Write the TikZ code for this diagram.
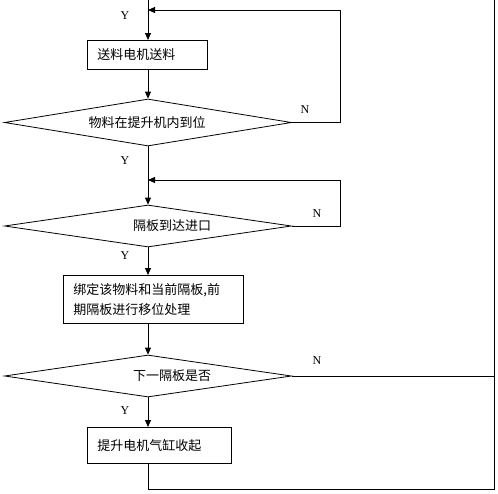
\documentclass[tikz,border=0pt]{standalone}
\usepackage{fontspec}
\setmainfont{Liberation Serif}
\newfontfamily\cjk{Noto Sans CJK SC}
\usetikzlibrary{arrows.meta,shapes.geometric,positioning}

\begin{document}
\begin{tikzpicture}[x=1pt,y=-1pt,>={Triangle[length=7pt,width=6pt]},line width=0.8pt,
    procbox/.style={draw,rectangle,anchor=north west,inner xsep=10pt,inner ysep=0pt,
                    align=left,font=\cjk\fontsize{13}{20}\selectfont},
    decide/.style={draw,diamond,inner sep=0pt,minimum width=287pt},
    dtext/.style={font=\cjk\fontsize{13}{16}\selectfont,inner sep=0pt},
    yn/.style={font=\fontsize{12}{14}\selectfont,inner sep=0pt}]
  \useasboundingbox (0,0) rectangle (498,493);
  % process boxes
  \node[procbox,text width=100pt,minimum height=29pt] (feed) at (87,40) {送料电机送料};
  \node[procbox,text width=160pt,minimum height=48pt] (bind) at (63,275)
     {绑定该物料和当前隔板,前\\期隔板进行移位处理};
  \node[procbox,text width=124pt,minimum height=36pt] (lift) at (87,427) {提升电机气缸收起};
  % decisions
  \node[decide,minimum height=47pt] (inpos) at (148,122.5) {};
  \node[dtext] (inpostxt) at ([xshift=-1pt]inpos) {物料在提升机内到位};
  \node[decide,minimum height=42pt] (arrive) at (148,226) {};
  \node[dtext] (arrivetxt) at ([xshift=24pt]arrive) {隔板到达进口};
  \node[decide,minimum height=42pt] (next) at (148,376) {};
  \node[dtext] (nexttxt) at ([xshift=24pt]next) {下一隔板是否};
  % free ends
  \coordinate (top) at (148,0);
  \coordinate (loopa) at (340,10);
  \coordinate (loopb) at (340,180);
  \coordinate (back) at (494,489);
  % flow
  \draw[->] (top) -- (top |- feed.north);
  \draw[->] (top |- feed.south) -- (inpos.north);
  \draw[->] (inpos.south) -- (arrive.north);
  \draw[->] (arrive.south) -- (arrive.south |- bind.north);
  \draw[->] (arrive.south |- bind.south) -- (next.north);
  \draw[->] (next.south) -- (next.south |- lift.north);
  % loops
  \draw[->] (inpos.east) -| (loopa) -- (top |- loopa);
  \draw[->] (arrive.east) -| (loopb) -- (top |- loopb);
  \draw (next.east) -- (next.east -| back);
  \draw (top |- lift.south) |- (back) -- (back |- top);
  % labels
  \node[yn] (y1) at (125,16) {Y};
  \node[yn] (n1) at (305,110) {N};
  \node[yn] (y2) at (125,161) {Y};
  \node[yn] (n2) at (317,214) {N};
  \node[yn] (y3) at (125,256) {Y};
  \node[yn] (n3) at (317,361) {N};
  \node[yn] (y4) at (125,411) {Y};
\end{tikzpicture}
\end{document}
